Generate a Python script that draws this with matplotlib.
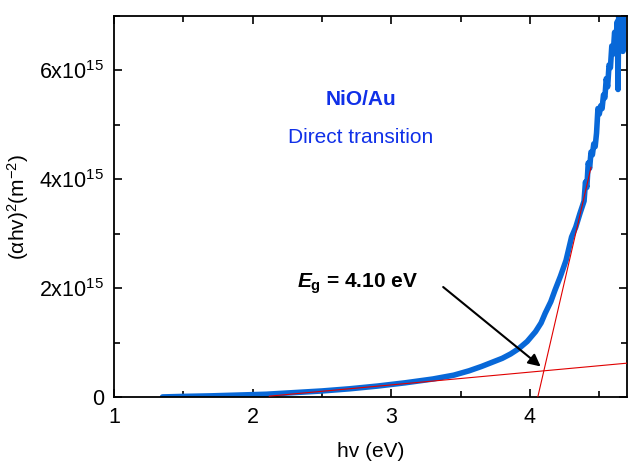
import numpy as np
import matplotlib
matplotlib.use('Agg')
import matplotlib.pyplot as plt
from matplotlib.ticker import MultipleLocator

plt.rcParams['font.family'] = ['Liberation Sans', 'DejaVu Sans']
plt.rcParams['mathtext.fontset'] = 'custom'
plt.rcParams['mathtext.rm'] = 'Liberation Sans'
plt.rcParams['mathtext.it'] = 'Liberation Sans:italic:bold'
plt.rcParams['mathtext.bf'] = 'Liberation Sans:bold'

# 光子能量 hv (eV) 與 (alpha*hv)^2 (單位 1e15 m^-2)
hv = [1.35, 1.5, 1.7, 1.9, 2.1, 2.3, 2.5, 2.7, 2.9, 3.1, 3.3, 3.45, 3.56, 3.65,
      3.72, 3.8, 3.86, 3.92, 3.98, 4.04, 4.08, 4.11, 4.15, 4.18, 4.22, 4.26,
      4.3, 4.33, 4.36, 4.39, 4.40, 4.41, 4.42, 4.43, 4.44, 4.45, 4.46, 4.47,
      4.48, 4.49, 4.50, 4.51, 4.52, 4.53, 4.54, 4.55, 4.56, 4.57, 4.58, 4.59,
      4.60, 4.61, 4.62, 4.63, 4.635, 4.64, 4.65, 4.66, 4.67, 4.675, 4.70]
ahv2 = [0.0, 0.01, 0.02, 0.035, 0.05, 0.08, 0.11, 0.15, 0.2, 0.26, 0.33, 0.4,
        0.48, 0.56, 0.63, 0.71, 0.79, 0.89, 1.02, 1.2, 1.36, 1.54, 1.75, 1.96,
        2.22, 2.51, 2.94, 3.12, 3.37, 3.6, 3.95, 3.85, 4.3, 4.2, 4.5, 4.45,
        4.65, 4.6, 4.85, 5.3, 5.2, 5.35, 5.3, 5.55, 5.5, 5.85, 5.7, 6.1, 6.05,
        6.45, 6.3, 6.7, 6.6, 6.9, 5.65, 7.1, 6.9, 7.1, 6.35, 7.2, 7.3]

# 線性擬合 (Tauc plot)
Eg = 4.10
y_at_Eg = 0.48
base_slope = 0.235
steep_slope = 11.0
base_range = [2.12, 4.70]
steep_top = 4.44

hv = np.array(hv)
ahv2 = np.array(ahv2) * 1e15

ytick_vals = [0, 2e15, 4e15, 6e15]
ytick_labels = ['0', '2x10$^{15}$', '4x10$^{15}$', '6x10$^{15}$']
xtick_vals = [1, 2, 3, 4]

fig = plt.figure(figsize=(6.28, 4.67), dpi=100)
ax = fig.add_axes([0.1815, 0.150, 0.8170, 0.8157])

ax.plot(hv, ahv2, color='#0868d8', lw=4, solid_joinstyle='round',
        solid_capstyle='round', zorder=2)

bx = np.array(base_range)
ax.plot(bx, (y_at_Eg + base_slope * (bx - Eg)) * 1e15, color='#e00000', lw=0.8, zorder=3)
sx = np.array([Eg - y_at_Eg / steep_slope, steep_top])
ax.plot(sx, (y_at_Eg + steep_slope * (sx - Eg)) * 1e15, color='#e00000', lw=0.8, zorder=3)

ax.set_xlim(1, 4.7)
ax.set_ylim(0, 7e15)
ax.set_xticks(xtick_vals)
ax.set_yticks(ytick_vals)
ax.set_yticklabels(ytick_labels)
ax.xaxis.set_minor_locator(MultipleLocator(0.5))
ax.yaxis.set_minor_locator(MultipleLocator(1e15))
ax.tick_params(which='both', direction='in', top=True, right=True, width=1.2,
               labelsize=15.5, pad=7)
ax.tick_params(which='major', length=6)
ax.tick_params(which='minor', length=4)
for s in ax.spines.values():
    s.set_linewidth(1.3)

ax.set_xlabel('hv (eV)', fontsize=15, labelpad=10)
ax.set_ylabel('(αhv)$^2$(m$^{-2}$)', fontsize=15, labelpad=6)

ax.text(2.78, 5.47e15, 'NiO/Au', color='#1030e8', fontsize=15, fontweight='bold',
        ha='center', va='center')
ax.text(2.78, 4.77e15, 'Direct transition', color='#1030e8', fontsize=15,
        ha='center', va='center')
ax.text(2.32, 2.0e15, r'$E_{\mathbf{g}}$ = 4.10 eV', fontsize=15, fontweight='bold',
        ha='left', va='baseline')
ax.annotate('', xy=(4.077, 0.56e15), xytext=(3.374, 2.02e15),
            arrowprops=dict(arrowstyle='-|>', color='black', lw=1.5,
                            mutation_scale=18, shrinkA=0, shrinkB=0))

plt.savefig('out.png', dpi=100)
